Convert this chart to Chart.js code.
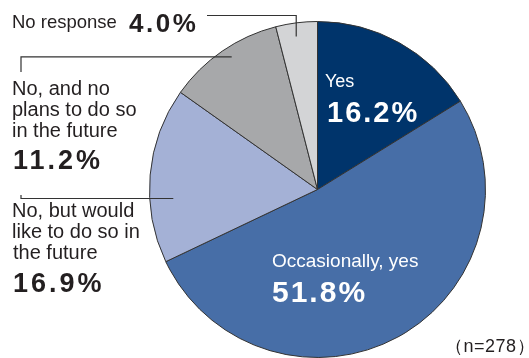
<!DOCTYPE html>
<html>
<head>
<meta charset="utf-8">
<script src="https://cdn.jsdelivr.net/npm/chart.js@4"></script>
<style>
  html, body { margin: 0; padding: 0; background: #fff; overflow: hidden; }
  #wrap { width: 529px; height: 358px; position: relative; }
</style>
</head>
<body>
<div id="wrap"><canvas id="Chart"></canvas></div>
<script>
// Survey answers, clockwise from 12 o'clock
const answers = ['Yes', 'Occasionally, yes', 'No, but would like to do so in the future', 'No, and no plans to do so in the future', 'No response'];
const shares = [16.2, 51.8, 16.9, 11.2, 4.0];
const sampleNote = '（n=278）';

const sliceColors = ['#00346b', '#476ea7', '#a4b1d6', '#a7a8aa', '#d3d4d6'];

const FONT = '"Liberation Sans", Arial, sans-serif';
const INK = '#231f20';

function pct(v) {
  return v.toFixed(1) + '%';
}

// point inside a slice: t = fraction along the slice angle, r = fraction of radius
function slicePoint(arc, t, r) {
  const a = arc.startAngle + (arc.endAngle - arc.startAngle) * t;
  return {
    x: arc.x + Math.cos(a) * arc.outerRadius * r,
    y: arc.y + Math.sin(a) * arc.outerRadius * r
  };
}

// x is where the ink of the first glyph starts
function drawText(ctx, text, x, y, size, bold, color, spacing) {
  ctx.font = (bold ? 'bold ' : '') + size + 'px ' + FONT;
  ctx.fillStyle = color;
  ctx.letterSpacing = (spacing || 0) + 'px';
  const m = ctx.measureText(text);
  ctx.fillText(text, x + m.actualBoundingBoxLeft, y);
  ctx.letterSpacing = '0px';
}

const labelPlugin = {
  id: 'pieLabels',
  afterDraw(chart) {
    const ctx = chart.ctx;
    const arcs = chart.getDatasetMeta(0).data;
    ctx.save();
    ctx.textBaseline = 'alphabetic';
    ctx.textAlign = 'left';

    // leader lines
    ctx.strokeStyle = '#333';
    ctx.lineWidth = 1.2;

    const pNoResp = slicePoint(arcs[4], 0.45, 0.92);
    ctx.beginPath();
    ctx.moveTo(207, 15.5);
    ctx.lineTo(pNoResp.x, 15.5);
    ctx.lineTo(pNoResp.x, pNoResp.y);
    ctx.stroke();

    const pNoPlan = slicePoint(arcs[3], 0.54, 0.94);
    ctx.beginPath();
    ctx.moveTo(21, 72);
    ctx.lineTo(21, pNoPlan.y);
    ctx.lineTo(pNoPlan.x, pNoPlan.y);
    ctx.stroke();

    const pLike = slicePoint(arcs[2], 0.36, 0.86);
    ctx.beginPath();
    ctx.moveTo(21, 195);
    ctx.lineTo(21, pLike.y);
    ctx.lineTo(pLike.x, pLike.y);
    ctx.stroke();

    // outside labels
    drawText(ctx, answers[4], 13, 28, 18.5, false, INK);
    drawText(ctx, pct(shares[4]), 129, 32, 26, true, INK, 2.5);

    drawText(ctx, 'No, and no', 13, 95, 20, false, INK);
    drawText(ctx, 'plans to do so', 13, 116, 20, false, INK);
    drawText(ctx, 'in the future', 13, 137, 20, false, INK);
    drawText(ctx, pct(shares[3]), 14, 169, 27, true, INK, 3);

    drawText(ctx, 'No, but would', 13, 217, 20, false, INK);
    drawText(ctx, 'like to do so in', 13, 238, 20, false, INK);
    drawText(ctx, 'the future', 13, 259, 20, false, INK);
    drawText(ctx, pct(shares[2]), 14, 292, 27, true, INK, 3);

    // inside labels
    drawText(ctx, answers[0], 325, 87, 18, false, '#fff');
    drawText(ctx, pct(shares[0]), 328, 122, 29, true, '#fff', 2);
    drawText(ctx, answers[1], 272, 267, 19, false, '#fff');
    drawText(ctx, pct(shares[1]), 272, 302, 30, true, '#fff', 2);

    // sample size
    drawText(ctx, sampleNote, 456, 352, 18, false, INK, 0.5);
    ctx.restore();
  }
};

const config = {
  type: 'pie',
  data: {
    labels: answers,
    datasets: [{
      data: shares,
      backgroundColor: sliceColors,
      borderColor: '#333',
      borderWidth: 1
    }]
  },
  options: {
    responsive: true,
    maintainAspectRatio: false,
    animation: false,
    layout: { padding: { left: 149, right: 43, top: 21, bottom: 0 } },
    plugins: {
      legend: { display: false },
      tooltip: { enabled: false }
    }
  },
  plugins: [labelPlugin]
};

const pieChart = new Chart(document.getElementById('Chart'), config);
</script>
</body>
</html>
